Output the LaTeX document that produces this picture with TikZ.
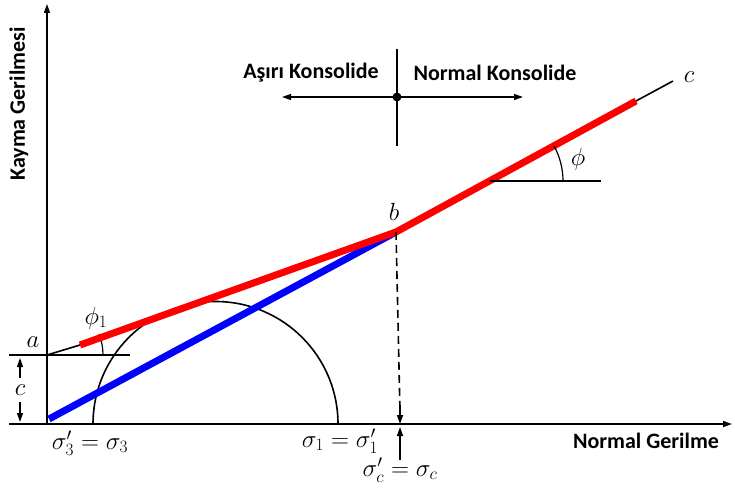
\documentclass[tikz,border=0pt]{standalone}
\usepackage{fontspec}
\setsansfont{Carlito}
\usetikzlibrary{arrows.meta}
\begin{document}
\begin{tikzpicture}[x=1pt,y=-1pt,
  lbl/.style={font=\sffamily\bfseries\fontsize{22}{26}\selectfont, text=black},
  mlbl/.style={font=\fontsize{23}{26}\selectfont},
  thin line/.style={line width=1.6pt},
  thick red/.style={line width=7pt, red},
  thick blue/.style={line width=7pt, blue},
  tip/.style={-{Triangle[length=9pt,width=6pt]}}]
\useasboundingbox (0,0) rectangle (735,487);
% coordinates
\coordinate (O) at (47,424);
\coordinate (Ytop) at (47,4);
\coordinate (Xend) at (732,424);
\coordinate (a) at (47,355);
\coordinate (r1) at (80,345);
\coordinate (b) at (396,232);
\coordinate (r2) at (636,101);
\coordinate (cend) at (673,81);
\coordinate (bl0) at (49,419);
\coordinate (sc) at (400,424);
% axes
\draw[thin line, tip] (O) -- (Ytop);
\draw[thin line, tip] (O) -- (Xend);
\node[lbl, rotate=90] (ylab) at (19,104) {Kayma Gerilmesi};
\node[lbl] (xlab) at (646,441) {Normal Gerilme};
% circle
\draw[thin line] (93,424) arc[start angle=180, end angle=360, radius=122.5];
% reference lines at a
\coordinate (hl0) at (9,355);
\coordinate (hl1) at (130,355);
\draw[thin line] (hl0) -- (hl1);
\coordinate (t0) at (9,424);
\draw[thin line] (t0) -- (O);
% c dimension
\coordinate (c1) at (20,378);
\coordinate (c2) at (20,402);
\coordinate (ctop) at (20,358);
\coordinate (cbot) at (20,422);
\draw[line width=1.2pt, tip] (c1) -- (ctop);
\draw[line width=1.2pt, tip] (c2) -- (cbot);
\node[mlbl] (clab) at (20,390) {$c$};
% phi1 arc
\draw[line width=1.2pt] (103,355) arc[start angle=0, end angle=-22, radius=56];
\node[mlbl] (phi1) at (96,318) {$\phi_1$};
\node[mlbl] (alab) at (33,342) {$a$};
% black line a -> red start
\draw[thin line] (a) -- (r1);
% blue line
\draw[thick blue] (bl0) -- (b);
% red lines
\draw[thick red, line cap=butt] (r1) -- (b) -- (r2);
\draw[thin line] (r2) -- (cend);
\node[mlbl] (clbl) at (689,77) {$c$};
\node[mlbl] (blbl) at (394,212) {$b$};
% phi angle
\coordinate (h0) at (490,181);
\coordinate (h1) at (601,181);
\draw[thin line] (h0) -- (h1);
\draw[line width=1.2pt] (563,181) arc[start angle=0, end angle=-28.6, radius=73];
\node[mlbl] (phi) at (578,159) {$\phi$};
% dashed vertical from b
\draw[thin line, dash pattern=on 8pt off 5pt] (b) -- (400,412);
\draw[thin line, tip] (400,405) -- (sc);
\coordinate (sc2) at (400,460);
\draw[thin line, tip] (sc2) -- (400,427);
% axis labels
\node[mlbl] (s3) at (90,443) {$\sigma'_3=\sigma_3$};
\node[mlbl] (s1) at (340,441) {$\sigma_1=\sigma'_1$};
\node[mlbl] (scl) at (400,470) {$\sigma'_c=\sigma_c$};
% consolidation cross
\coordinate (v0) at (397,49);
\coordinate (v1) at (397,146);
\draw[line width=1.2pt] (v0) -- (v1);
\coordinate (ctr) at (397,97);
\coordinate (lft) at (282,97);
\coordinate (rgt) at (523,97);
\draw[line width=1.2pt, tip] (ctr) -- (lft);
\draw[line width=1.2pt, tip] (ctr) -- (rgt);
\fill (ctr) circle[radius=4.5];
\node[lbl] (ak) at (311,73) {Aşırı Konsolide};
\node[lbl] (nk) at (495,73) {Normal Konsolide};
\end{tikzpicture}
\end{document}
